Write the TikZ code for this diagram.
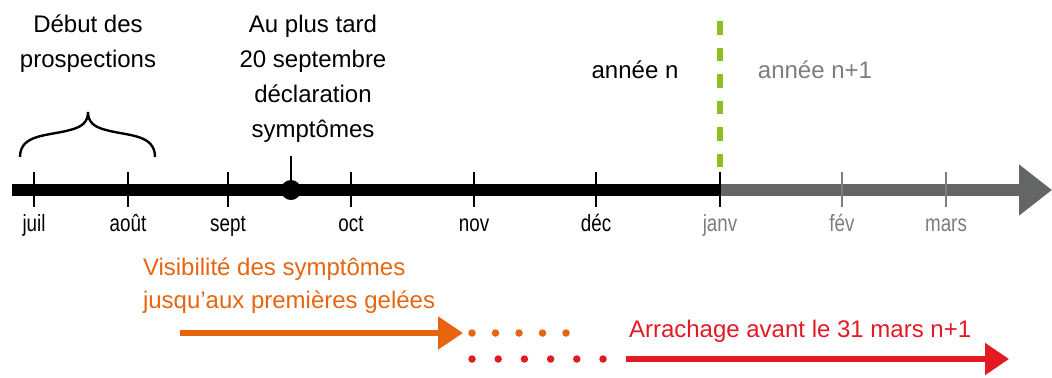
\documentclass[tikz,border=0pt]{standalone}
\usepackage{fontspec}
\setmainfont{Liberation Sans}
\newfontfamily\monthfont[FakeStretch=0.8]{Liberation Sans}
\usetikzlibrary{arrows.meta}
\definecolor{visOrange}{RGB}{232,101,16}
\definecolor{uprootRed}{RGB}{226,26,36}
\definecolor{axisGray}{RGB}{100,101,103}
\definecolor{labelGray}{RGB}{125,125,125}
\definecolor{splitGreen}{RGB}{141,190,35}
\newcommand{\visibilityColor}{visOrange}
\newcommand{\uprootColor}{uprootRed}
\newcommand{\nextYearColor}{axisGray}
\newcommand{\yearSplitColor}{splitGreen}

\begin{document}
\begin{tikzpicture}[
            x=0.5pt, y=-0.5pt,
            every node/.append style={inner sep=0pt, outer sep=0pt},
            caption/.style={font=\fontsize{12pt}{17.5pt}\selectfont, align=center, anchor=base},
            month/.style={font=\monthfont\fontsize{11.75pt}{13pt}\selectfont, anchor=base},
            tick/.style={line width=1pt},
            axis/.style={line width=5.75pt},
            dots/.style={line width=3.75pt, line cap=round}
        ]
        \useasboundingbox (0,0) rectangle (1052,377);
        % time axis
        \coordinate (axisStart) at (12,190);
        \coordinate (newYear) at (720,190);
        \coordinate (axisEnd) at (1052,190);
        \draw[axis] (axisStart) -- (newYear);
        \draw[axis, \nextYearColor, -{Triangle[length=16.5pt, width=24.5pt]}] (newYear) -- (axisEnd);

        % months
        \foreach \x/\m/\c [count=\i] in {34/juil/black, 128/août/black, 228/sept/black, 351/oct/black,
                474/nov/black, 596/déc/black, 720/janv/black, 842/fév/labelGray, 946/mars/labelGray}{
                \draw[tick, \c] (\x,172) -- (\x,207);
            }
        \foreach \x/\m/\c [count=\i] in {34/juil/black, 128/août/black, 228/sept/black, 351/oct/black,
                474/nov/black, 596/déc/black, 720/janv/labelGray, 842/fév/labelGray, 946/mars/labelGray}{
                \node[month, text=\c] (month\i) at (\x,231) {\m};
            }

        % year split
        \coordinate (splitTop) at (720,21);
        \coordinate (splitBottom) at (720,170);
        \draw[\yearSplitColor, line width=3pt, dash pattern=on 6.75pt off 6.5pt] (splitTop) -- (splitBottom);
        \node[caption] (yearN) at (635,78) {année n};
        \node[caption, text=labelGray] (yearNext) at (815,78) {année n+1};

        % prospections
        \draw[line width=1.2pt] (20,157) .. controls (20,134) and (48,136) .. (70,130)
            .. controls (82,127) and (88,122) .. (88,112)
            .. controls (88,122) and (94,127) .. (106,130)
            .. controls (128,136) and (155,134) .. (155,157);
        \node[caption] (prospections) at (88,67) {Début des\\prospections};

        % declaration
        \node[circle, fill=black, minimum size=10pt] (deadline) at (291,190) {};
        \coordinate (deadlineTop) at (291,156);
        \draw[tick] (deadline) -- (deadlineTop);
        \node[caption] (declaration) at (313,137) {Au plus tard\\20 septembre\\déclaration\\symptômes};

        % visibility
        \node[caption, align=left, anchor=base west, text=\visibilityColor, font=\fontsize{12pt}{16.5pt}\selectfont]
            (visibility) at (143,308) {Visibilité des symptômes\\jusqu’aux premières gelées};
        \coordinate (visStart) at (180,333);
        \coordinate (visEnd) at (463,333);
        \coordinate (visDotsStart) at (472,333);
        \coordinate (visDotsEnd) at (567,333);
        \draw[line width=2.65pt, \visibilityColor, -{Triangle[length=12.5pt, width=16pt]}] (visStart) -- (visEnd);
        \draw[dots, \visibilityColor, dash pattern=on 0pt off 11.75pt] (visDotsStart) -- (visDotsEnd);

        % uprooting
        \node[caption, anchor=base west, text=\uprootColor] (uprooting) at (629,337) {Arrachage avant le 31 mars n+1};
        \coordinate (uprootDotsStart) at (472,359);
        \coordinate (uprootDotsEnd) at (604,359);
        \coordinate (uprootStart) at (626,359);
        \coordinate (uprootEnd) at (1009,359);
        \draw[dots, \uprootColor, dash pattern=on 0pt off 13.1pt] (uprootDotsStart) -- (uprootDotsEnd);
        \draw[line width=2.65pt, \uprootColor, -{Triangle[length=12pt, width=15.5pt]}] (uprootStart) -- (uprootEnd);

    \end{tikzpicture}
\end{document}
